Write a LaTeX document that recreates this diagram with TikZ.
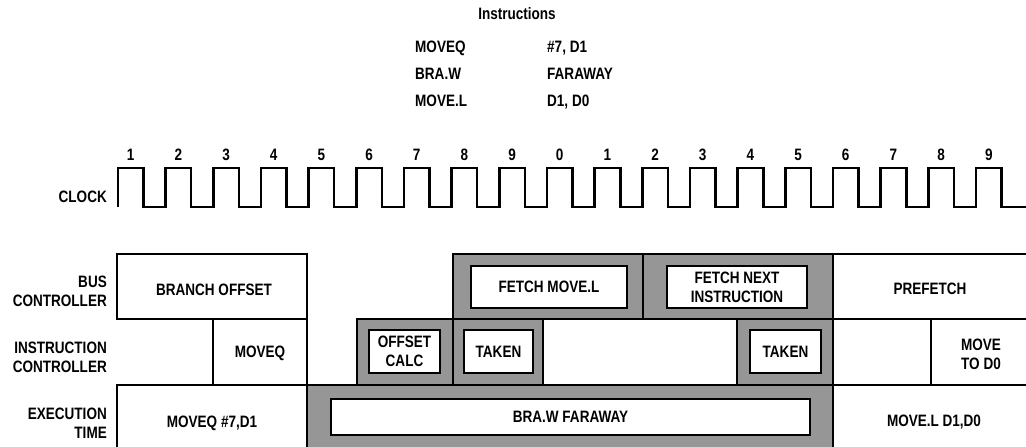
\documentclass[tikz,border=0pt]{standalone}
\usepackage{fontspec}
\setmainfont[FakeStretch=0.82]{Liberation Sans}
\definecolor{shade}{RGB}{150,150,150}
\newcommand\lblfont{\bfseries\fontsize{16.5}{19}\selectfont}
\tikzset{
  txt/.style={font=\lblfont, inner sep=0pt},
  one/.style={txt, text height=11.8pt, text depth=0pt},
  two/.style={txt, align=center},
  rtwo/.style={txt, align=right, anchor=east},
  cell/.style={draw=black, line width=2pt, fill=white},
  shcell/.style={draw=black, line width=2pt, fill=shade},
  inbox/.style={draw=black, line width=2.4pt, fill=white, inner sep=0pt, font=\lblfont},
  clk/.style={line width=2.6pt, line join=miter},
}
\begin{document}
\begin{tikzpicture}[x=1pt,y=-1pt]
\useasboundingbox (0,0) rectangle (1026,447);
\clip (0,0) rectangle (1026,447);

% header
\node[one] (hdr) at (517,14) {Instructions};
\node[one, anchor=west] (i1a) at (415,47) {MOVEQ};
\node[one, anchor=west] (i1b) at (547,47) {\#7, D1};
\node[one, anchor=west] (i2a) at (415,74) {BRA.W};
\node[one, anchor=west] (i2b) at (547,74) {FARAWAY};
\node[one, anchor=west] (i3a) at (415,101) {MOVE.L};
\node[one, anchor=west] (i3b) at (547,101) {D1, D0};

% clock
\node[one, anchor=east] (clklbl) at (107,197) {CLOCK};
\draw[clk] (118,207) \foreach \k in {0,...,18} { -- ++(0,-39) -- ++(25.5,0) -- ++(0,39) -- ++(22.17,0) } -- ++(10,0);
\foreach \k/\d in {0/1,1/2,2/3,3/4,4/5,5/6,6/7,7/8,8/9,9/0,10/1,11/2,12/3,13/4,14/5,15/6,16/7,17/8,18/9}
  \node[one] (n\k) at ({118+47.67*\k+12.7},155) {\d};

% row labels
\node[rtwo] (rbus) at (107,291) {BUS\\CONTROLLER};
\node[rtwo] (rins) at (107,357.5) {INSTRUCTION\\CONTROLLER};
\node[rtwo] (rexe) at (107,423) {EXECUTION\\TIME};

% white cells
\filldraw[cell] (117,254) rectangle (307,319);
\filldraw[cell] (213,319) rectangle (307,385);
\filldraw[cell] (117,385) rectangle (307,470);
\filldraw[cell] (543,319) rectangle (737,385);
\filldraw[cell] (833,254) rectangle (1040,319);
\filldraw[cell] (833,319) rectangle (931,385);
\filldraw[cell] (931,319) rectangle (1040,385);
\filldraw[cell] (833,385) rectangle (1040,470);
% shaded cells
\filldraw[shcell] (357,319) rectangle (453,385);
\filldraw[shcell] (453,254) rectangle (643,319);
\filldraw[shcell] (643,254) rectangle (833,319);
\filldraw[shcell] (453,319) rectangle (543,385);
\filldraw[shcell] (737,319) rectangle (833,385);
\filldraw[shcell] (307,385) rectangle (833,470);

% cell texts
\node[one] (bo) at (214,290) {BRANCH OFFSET};
\node[one] (mq) at (260,352) {MOVEQ};
\node[one] (mq7) at (212,422) {MOVEQ \#7,D1};
\node[one] (pf) at (930,289) {PREFETCH};
\node[two] (mtd) at (981,354) {MOVE\\TO D0};
\node[one] (mld) at (934,421) {MOVE.L D1,D0};

% inner boxes
\node[inbox, minimum width=156pt, minimum height=42pt] (fm) at (549,287) {FETCH MOVE.L};
\node[inbox, minimum width=140pt, minimum height=42pt, align=center] (fn) at (737,287) {FETCH NEXT\\INSTRUCTION};
\node[inbox, minimum width=71pt, minimum height=43pt, align=center] (oc) at (404.5,351.5) {OFFSET\\CALC};
\node[inbox, minimum width=69pt, minimum height=43pt] (tk1) at (498.5,351.5) {TAKEN};
\node[inbox, minimum width=71pt, minimum height=43pt] (tk2) at (785.5,351.5) {TAKEN};
\node[inbox, minimum width=479pt, minimum height=36pt] (bra) at (570.5,417) {BRA.W FARAWAY};
\end{tikzpicture}
\end{document}
